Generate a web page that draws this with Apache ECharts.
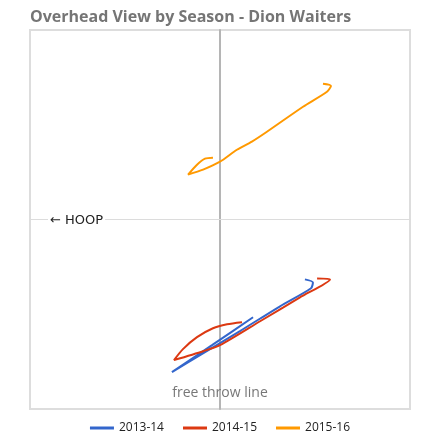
<!DOCTYPE html>
<html>
<head>
    <meta charset="utf-8">
    <script src="https://cdn.jsdelivr.net/npm/echarts@6/dist/echarts.min.js"></script>
</head>
<body style="margin:0;background-color:#fff">
    <div id="main" style="width:440px;height:440px;"></div>
    <script type="text/javascript">
        // seasons shown in the legend
        var seasons = ['2013-14', '2014-15', '2015-16'];
        var colors = ['#3366cc', '#dc3912', '#ff9900'];

        // overhead positions, x: -100 (hoop side) .. 100, y: -100 .. 100
        var s2013 = [
            [44.7, -31.6], [48.9, -33.2], [47.9, -36.3], [31.6, -45.8], [10.5, -58.9],
            [-10.5, -71.6], [-25.3, -80.5], [-4.2, -66.3], [17.4, -51.6]
        ];
        var s2014 = [
            [51.1, -31.1], [57.9, -31.6], [42.1, -41.1], [21.1, -53.7], [0, -66.3],
            [-8.9, -69.5], [-24.2, -74.2], [-19.5, -68.4], [-12.1, -62.1], [-3.7, -57.4],
            [3.7, -55.3], [11.6, -54.2]
        ];
        var s2015 = [
            [54.2, 71.6], [58.4, 70.5], [56.3, 67.4], [43.7, 59.5], [24.7, 46.3],
            [16.8, 41.1], [8.9, 36.8], [0, 30.5], [-8.9, 26.3], [-16.8, 23.7],
            [-12.1, 28.9], [-7.9, 32.1], [-3.7, 32.6]
        ];
        var allData = [s2013, s2014, s2015];

        var myChart = echarts.init(document.getElementById('main'));

        var series = [];
        for (var i = 0; i < seasons.length; i++) {
            series.push({
                name: seasons[i],
                type: 'line',
                data: allData[i],
                smooth: 0.25,
                showSymbol: false,
                symbol: 'none',
                lineStyle: {width: 2, color: colors[i]},
                itemStyle: {color: colors[i]}
            });
        }

        var option = {
            animation: false,
            textStyle: {fontFamily: 'Open Sans'},
            title: {
                text: 'Overhead View by Season - Dion Waiters',
                left: 25,
                top: 4,
                textStyle: {fontSize: 16, fontWeight: 'bold', color: '#757575', fontFamily: 'Open Sans'}
            },
            legend: {
                bottom: 1,
                left: 'center',
                itemWidth: 24,
                itemHeight: 3,
                itemGap: 19,
                icon: 'rect',
                data: seasons,
                textStyle: {fontSize: 12, color: '#222', fontFamily: 'Open Sans'}
            },
            grid: {
                left: 30, right: 30, top: 30, bottom: 31,
                show: true,
                borderColor: '#ddd',
                borderWidth: 2,
                backgroundColor: '#fff'
            },
            xAxis: {
                type: 'value',
                min: -100, max: 100,
                axisLabel: {show: false},
                axisTick: {show: false},
                splitLine: {show: false},
                axisLine: {show: true, onZero: true, lineStyle: {color: '#dcdcdc', width: 1}}
            },
            yAxis: {
                type: 'value',
                min: -100, max: 100,
                axisLabel: {show: false},
                axisTick: {show: false},
                splitLine: {show: false},
                axisLine: {show: true, onZero: true, lineStyle: {color: '#b5b5b5', width: 2}}
            },
            graphic: [
                {
                    type: 'text',
                    left: 48,
                    top: 213,
                    z: 100,
                    style: {
                        text: '\u2190 HOOP',
                        fontSize: 13,
                        fill: '#222',
                        fontFamily: 'DejaVu Sans',
                        backgroundColor: '#fff',
                        padding: [1, 2]
                    }
                },
                {
                    type: 'text',
                    left: 'center',
                    top: 386,
                    z: 100,
                    style: {
                        text: 'free throw line',
                        fontSize: 14,
                        fill: '#777',
                        fontFamily: 'Open Sans'
                    }
                }
            ],
            series: series
        };

        myChart.setOption(option);
    </script>
</body>
</html>
